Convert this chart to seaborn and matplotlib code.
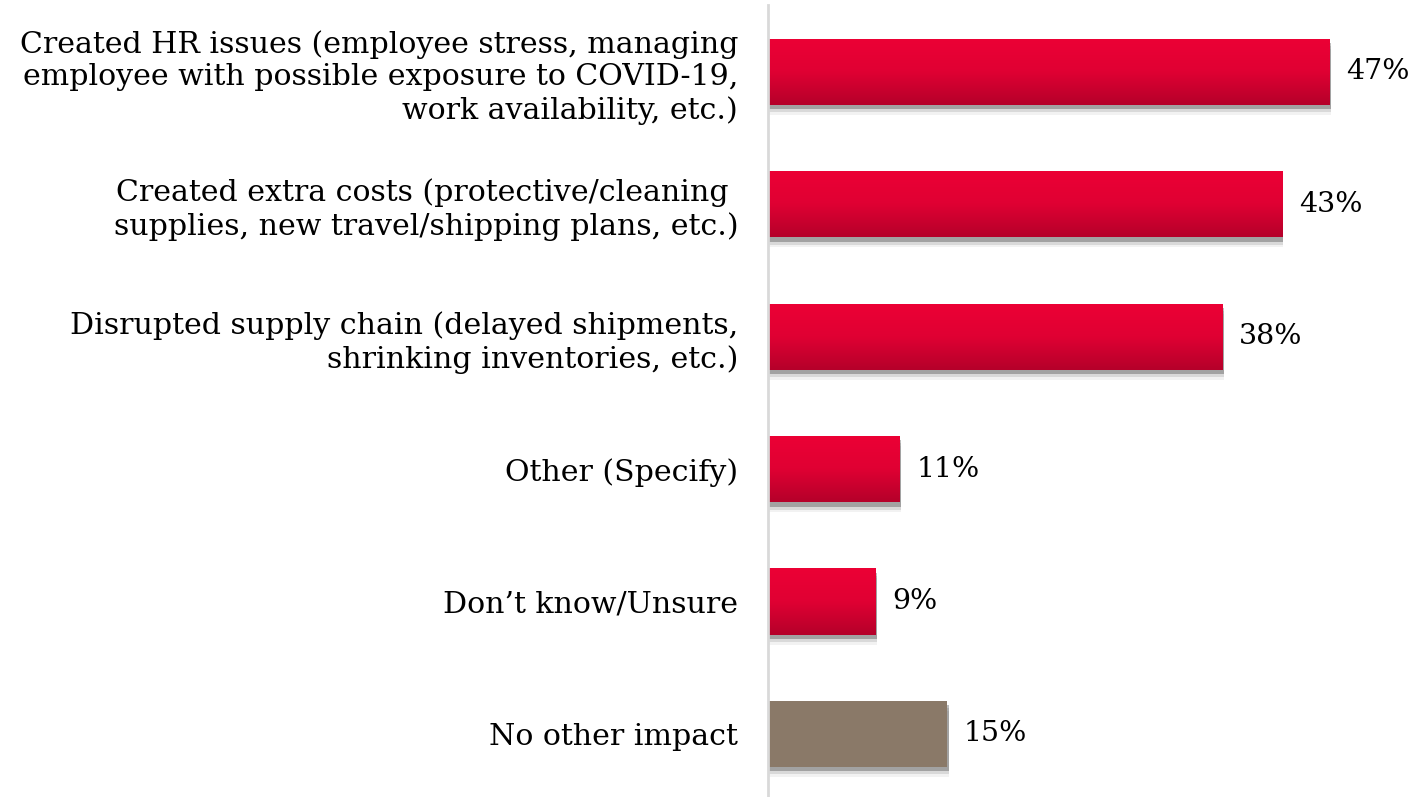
import numpy as np
import pandas as pd
import matplotlib
matplotlib.use('Agg')
import matplotlib.pyplot as plt
from matplotlib.colors import LinearSegmentedColormap
from matplotlib.patches import Rectangle
import seaborn as sns

categories = [
    'Created HR issues (employee stress, managing\nemployee with possible exposure to COVID-19,\nwork availability, etc.)',
    'Created extra costs (protective/cleaning \nsupplies, new travel/shipping plans, etc.)',
    'Disrupted supply chain (delayed shipments,\nshrinking inventories, etc.)',
    'Other (Specify)',
    'Don\u2019t know/Unsure',
    'No other impact',
]
values = [47, 43, 38, 11, 9, 15]
bar_colors = ['#E4003A', '#E4003A', '#E4003A', '#E4003A', '#E4003A', '#8A7968']
gradient = [True, True, True, True, True, False]

df = pd.DataFrame({'category': categories, 'value': values})

sns.set_style('white')
plt.rcParams['font.family'] = ['DejaVu Serif']
plt.rcParams['text.color'] = 'black'
plt.rcParams['ytick.color'] = 'black'

fig = plt.figure(figsize=(14.16, 7.97), dpi=100)
ax = fig.add_axes([768 / 1416, 0.0, 1 - 768 / 1416, 792 / 797])

sns.barplot(data=df, x='value', y='category', hue='category', palette=bar_colors,
            legend=False, width=0.5, ax=ax, saturation=1, linewidth=0)

red_cmap = LinearSegmentedColormap.from_list('red', ['#EC0035', '#E00033', '#B5002A'])
for patch, use_grad in zip(ax.patches, gradient):
    x0, y0 = patch.get_x(), patch.get_y()
    w, h = patch.get_width(), patch.get_height()
    # soft drop shadow
    for off, a in [(0.075, 0.05), (0.055, 0.10), (0.032, 0.25)]:
        sh = Rectangle((x0, y0 + off), w + 0.1, h,
                       color='black', alpha=a, lw=0, zorder=patch.get_zorder() - 1)
        ax.add_patch(sh)
    if use_grad:
        img = ax.imshow(np.linspace(0, 1, 100).reshape(-1, 1), cmap=red_cmap,
                        extent=[x0, x0 + w, y0 + h, y0], aspect='auto',
                        zorder=patch.get_zorder() + 0.1)
        img.set_clip_path(patch)

for cont in ax.containers:
    ax.bar_label(cont, fmt='%d%%', padding=12, fontsize=20.5, color='black')

ax.set_xlim(0, 54.2)
ax.set_ylim(5.476, -0.506)
ax.set_xlabel('')
ax.set_ylabel('')
ax.set_xticks([])
ax.tick_params(axis='y', length=0, pad=21.5, labelsize=21.6)
for lab in ax.get_yticklabels():
    lab.set_linespacing(1.22)
for s in ['top', 'right', 'bottom']:
    ax.spines[s].set_visible(False)
ax.spines['left'].set_color('#D9D9D9')
ax.spines['left'].set_linewidth(2)

fig.savefig('out.png', dpi=100)
